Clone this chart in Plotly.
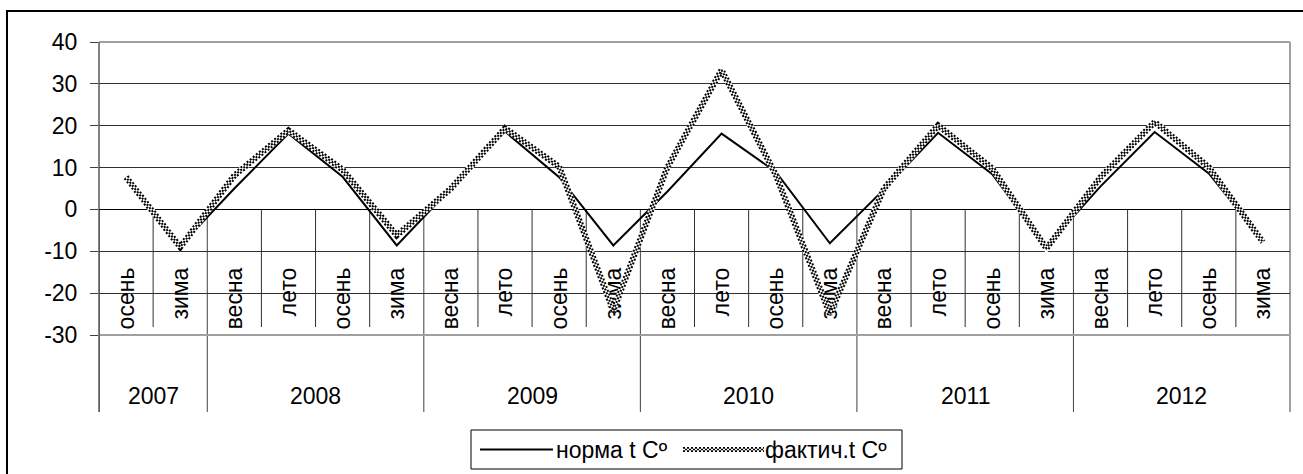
import numpy as np
import plotly.graph_objects as go

# Seasons (inner category level) and years (outer level)
seasons = ["осень", "зима",
           "весна", "лето", "осень", "зима",
           "весна", "лето", "осень", "зима",
           "весна", "лето", "осень", "зима",
           "весна", "лето", "осень", "зима",
           "весна", "лето", "осень", "зима"]
years = ["2007", "2008", "2009", "2010", "2011", "2012"]
seasons_per_year = [2, 4, 4, 4, 4, 4]

# Temperatures, °C
norma = [7.5, -8.7, 5.0, 18.1, 7.8, -8.6, 5.0, 18.6, 7.7, -8.6, 4.3,
         18.1, 9.0, -8.1, 4.8, 18.3, 8.4, -8.9, 5.5, 18.5, 8.6, -7.6]
fact = [7.7, -9.0, 8.1, 18.9, 9.5, -6.2, 5.0, 19.4, 10.2, -24.2, 10.1,
        33.3, 8.3, -25.0, 5.0, 20.1, 9.8, -9.3, 7.7, 20.9, 10.1, -7.8]

series_names = ["норма t Cº", "фактич.t Cº"]
y_ticks = [40, 30, 20, 10, 0, -10, -20, -30]

W, H = 1303, 474
L, R, T, B = 99, 1290, 42, 335          # plot-area edges in pixels
FONT = "Liberation Sans, Arial, sans-serif"
FS = 23


def fx(p):
    return (p - L) / (R - L)


def fy(p):
    return (B - p) / (B - T)


# layered strokes that give the checkered band of the "фактич." series
CHECK_LAYERS = [
    dict(color="white", width=6),
    dict(color="black", width=6, dash="2px,2px"),
    dict(color="white", width=2),
    dict(color="black", width=2, dash="0px,2px,2px,0px"),
]

x = np.arange(len(seasons))
ymin, ymax = min(y_ticks), max(y_ticks)

fig = go.Figure()

# норма: thin solid black line
fig.add_trace(go.Scatter(x=x, y=norma, mode="lines",
                         line=dict(color="black", width=2),
                         showlegend=False, hoverinfo="skip"))
# фактич.: checkered band
for ln in CHECK_LAYERS:
    fig.add_trace(go.Scatter(x=x, y=fact, mode="lines", line=ln,
                             showlegend=False, hoverinfo="skip"))

shapes = []
grid_col = "#303030"
border_col = "#a0a0a0"

# season dividers below the zero axis
n = len(seasons)
year_edges = np.cumsum([0] + seasons_per_year)
for b in range(1, n):
    if b in year_edges:
        continue
    shapes.append(dict(type="line", xref="x", yref="y domain",
                       x0=b - 0.5, x1=b - 0.5, y0=fy(209), y1=fy(327),
                       line=dict(color=grid_col, width=1), layer="below"))
# year dividers, running down into the outer label row
for b in year_edges:
    shapes.append(dict(type="line", xref="x", yref="y domain",
                       x0=b - 0.5, x1=b - 0.5, y0=fy(209), y1=fy(412),
                       line=dict(color="#404040", width=1), layer="below"))

# plot-area frame (top, right, bottom) in grey
shapes.append(dict(type="line", xref="paper", yref="paper", x0=0, x1=1, y0=1, y1=1,
                   line=dict(color=border_col, width=2), layer="below"))
shapes.append(dict(type="line", xref="paper", yref="paper", x0=1, x1=1, y0=1, y1=fy(412),
                   line=dict(color=border_col, width=2), layer="below"))
shapes.append(dict(type="line", xref="paper", yref="paper", x0=0, x1=1, y0=0, y1=0,
                   line=dict(color=border_col, width=2), layer="below"))
# left value axis, extended down through the label rows
shapes.append(dict(type="line", xref="paper", yref="paper", x0=0, x1=0, y0=1, y1=fy(412),
                   line=dict(color="#404040", width=1.3), layer="below"))

# outer chart frame
shapes.append(dict(type="rect", xref="paper", yref="paper",
                   x0=fx(7), x1=fx(1312), y0=fy(485), y1=fy(11),
                   line=dict(color="black", width=2), fillcolor="rgba(0,0,0,0)"))

annotations = []
# year labels centred under their seasons
for yr, a, b in zip(years, year_edges[:-1], year_edges[1:]):
    annotations.append(dict(x=(a + b - 1) / 2, y=fy(396), xref="x", yref="y domain",
                            text=yr, showarrow=False, xanchor="center", yanchor="middle",
                            font=dict(family=FONT, size=FS, color="black")))

# legend box
lg_t, lg_b = 430, 469
lg_l, lg_r = 471, 902
lg_mid = (lg_t + lg_b) / 2
shapes.append(dict(type="rect", xref="paper", yref="paper",
                   x0=fx(lg_l), x1=fx(lg_r), y0=fy(lg_b), y1=fy(lg_t),
                   line=dict(color="black", width=1), fillcolor="white"))
shapes.append(dict(type="line", xref="paper", yref="paper",
                   x0=fx(480), x1=fx(553), y0=fy(lg_mid), y1=fy(lg_mid),
                   line=dict(color="black", width=2)))
for ln in CHECK_LAYERS:
    shapes.append(dict(type="line", xref="paper", yref="paper",
                       x0=fx(683), x1=fx(764), y0=fy(lg_mid), y1=fy(lg_mid),
                       line=dict(ln, width=ln["width"] * 0.8)))
annotations.append(dict(x=fx(554), y=fy(lg_mid), xref="paper", yref="paper",
                        text=series_names[0], showarrow=False, xanchor="left",
                        yanchor="middle", font=dict(family=FONT, size=FS, color="black")))
annotations.append(dict(x=fx(763), y=fy(lg_mid), xref="paper", yref="paper",
                        text=series_names[1], showarrow=False, xanchor="left",
                        yanchor="middle", font=dict(family=FONT, size=FS, color="black")))

fig.update_layout(
    width=W, height=H,
    margin=dict(l=L, r=W - R, t=T, b=H - B, pad=0),
    paper_bgcolor="white", plot_bgcolor="white",
    showlegend=False,
    font=dict(family=FONT, size=FS, color="black"),
    shapes=shapes, annotations=annotations,
    xaxis=dict(range=[-0.5, n - 0.5], tickvals=x, ticktext=seasons,
               tickangle=-90, ticks="", showgrid=False, zeroline=False,
               showline=True, linecolor="black", linewidth=1,
               anchor="free", position=(0 - ymin) / (ymax - ymin),
               layer="below traces", ticklabelstandoff=48, automargin=False,
               tickfont=dict(family=FONT, size=FS, color="black")),
    yaxis=dict(range=[ymin, ymax], tickvals=y_ticks, ticktext=[str(v) for v in y_ticks],
               ticks="outside", ticklen=8, tickcolor="#404040", tickwidth=1,
               showgrid=True, gridcolor=grid_col, gridwidth=1, zeroline=False,
               showline=False, ticklabelstandoff=8, automargin=False,
               tickfont=dict(family=FONT, size=FS, color="black")),
)

fig.write_html("out.html")
